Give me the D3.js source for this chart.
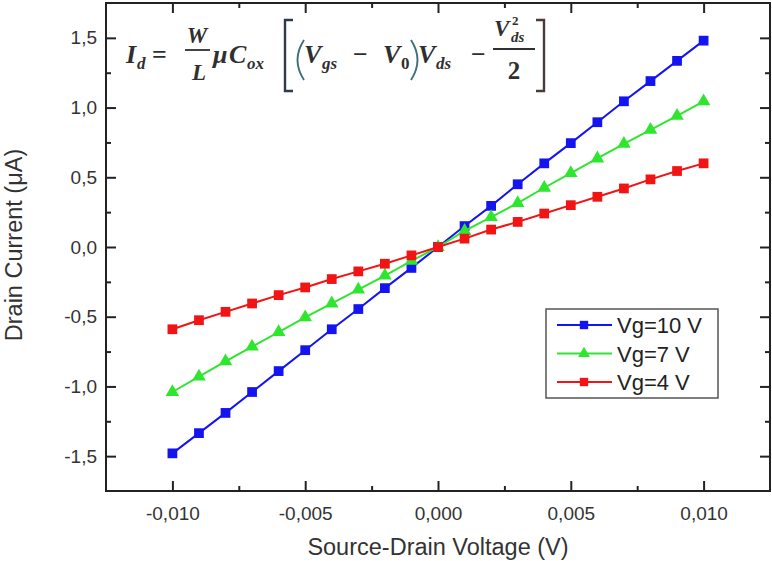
<!DOCTYPE html>
<html>
<head>
<meta charset="utf-8">
<script src="https://cdn.jsdelivr.net/npm/d3@7"></script>
<style>
  html, body { margin: 0; padding: 0; background: #fff; }
  svg { display: block; }
</style>
</head>
<body>
<svg id="chart" width="772" height="561"></svg>
<script>
// ---------- data ----------
const xValues = [-0.010, -0.009, -0.008, -0.007, -0.006, -0.005, -0.004, -0.003, -0.002, -0.001,
                 0.000, 0.001, 0.002, 0.003, 0.004, 0.005, 0.006, 0.007, 0.008, 0.009, 0.010];
const vg10 = [-1.48, -1.335, -1.19, -1.04, -0.89, -0.74, -0.59, -0.445, -0.295, -0.15,
              0.0, 0.15, 0.295, 0.45, 0.60, 0.745, 0.895, 1.045, 1.19, 1.335, 1.48];
const vg7  = [-1.04, -0.93, -0.82, -0.715, -0.61, -0.505, -0.405, -0.305, -0.205, -0.10,
              0.0, 0.115, 0.215, 0.315, 0.425, 0.53, 0.635, 0.74, 0.84, 0.94, 1.045];
const vg4  = [-0.59, -0.525, -0.465, -0.405, -0.345, -0.29, -0.23, -0.175, -0.12, -0.06,
              0.0, 0.06, 0.125, 0.18, 0.24, 0.30, 0.36, 0.42, 0.485, 0.545, 0.60];
const seriesNames = ["Vg=10 V", "Vg=7 V", "Vg=4 V"];
const xMajorTicks = [-0.010, -0.005, 0.000, 0.005, 0.010];
const xMinorTicks = [-0.0075, -0.0025, 0.0025, 0.0075];
const yMajorTicks = [-1.5, -1.0, -0.5, 0.0, 0.5, 1.0, 1.5];
const yMinorTicks = [-1.25, -0.75, -0.25, 0.25, 0.75, 1.25];
const xTitle = "Source-Drain Voltage (V)";
const yTitle = "Drain Current (μA)";

// ---------- layout ----------
const svg = d3.select("#chart");
const L = 106, R = 770, T = 3, B = 491;
const x = d3.scaleLinear().domain([-0.0125, 0.0125]).range([L, R]);
const y = d3.scaleLinear().domain([-1.75, 1.75]).range([B, T]);

const axisColor = "#222";
const labelFont = "'Liberation Sans', Arial, sans-serif";

const fmtX = v => d3.format(".3f")(v).replace("−", "-").replace(".", ",");
const fmtY = v => d3.format(".1f")(v).replace("−", "-").replace(".", ",");

function styleAxis(g) {
  g.select(".domain").remove();
  g.selectAll(".tick line").attr("stroke", axisColor).attr("stroke-width", 2);
  g.selectAll(".tick text")
    .attr("fill", "#333")
    .style("font-family", labelFont)
    .style("font-size", "19px");
}

// bottom
svg.append("g").attr("transform", `translate(0,${B})`)
  .call(d3.axisBottom(x).tickValues(xMajorTicks).tickSize(-10).tickSizeOuter(0).tickPadding(16).tickFormat(fmtX))
  .call(styleAxis);
svg.append("g").attr("transform", `translate(0,${B})`)
  .call(d3.axisBottom(x).tickValues(xMinorTicks).tickSize(-5).tickSizeOuter(0).tickFormat(""))
  .call(styleAxis);
// top
svg.append("g").attr("transform", `translate(0,${T})`)
  .call(d3.axisTop(x).tickValues(xMajorTicks).tickSize(-10).tickSizeOuter(0).tickFormat(""))
  .call(styleAxis);
svg.append("g").attr("transform", `translate(0,${T})`)
  .call(d3.axisTop(x).tickValues(xMinorTicks).tickSize(-5).tickSizeOuter(0).tickFormat(""))
  .call(styleAxis);
// left
svg.append("g").attr("transform", `translate(${L},0)`)
  .call(d3.axisLeft(y).tickValues(yMajorTicks).tickSize(-10).tickSizeOuter(0).tickPadding(9).tickFormat(fmtY))
  .call(styleAxis);
svg.append("g").attr("transform", `translate(${L},0)`)
  .call(d3.axisLeft(y).tickValues(yMinorTicks).tickSize(-5).tickSizeOuter(0).tickFormat(""))
  .call(styleAxis);
// right
svg.append("g").attr("transform", `translate(${R},0)`)
  .call(d3.axisRight(y).tickValues(yMajorTicks).tickSize(-10).tickSizeOuter(0).tickFormat(""))
  .call(styleAxis);
svg.append("g").attr("transform", `translate(${R},0)`)
  .call(d3.axisRight(y).tickValues(yMinorTicks).tickSize(-5).tickSizeOuter(0).tickFormat(""))
  .call(styleAxis);

// frame
svg.append("rect")
  .attr("x", L).attr("y", T).attr("width", R - L).attr("height", B - T)
  .attr("fill", "none").attr("stroke", axisColor).attr("stroke-width", 2);

// axis titles
svg.append("text")
  .attr("x", (x(-0.0125) + x(0.0125)) / 2).attr("y", 555)
  .attr("text-anchor", "middle")
  .style("font-family", labelFont).style("font-size", "23.5px").attr("fill", "#333")
  .text(xTitle);
svg.append("text")
  .attr("transform", `translate(22,${(y(-1.75) + y(1.75)) / 2 - 2}) rotate(-90)`)
  .attr("text-anchor", "middle")
  .style("font-family", labelFont).style("font-size", "23.5px").attr("fill", "#333")
  .text(yTitle);

// ---------- series ----------
const series = [
  { name: seriesNames[0], values: vg10, color: "#1414f0", marker: "square" },
  { name: seriesNames[1], values: vg7,  color: "#2ee62e", marker: "triangle" },
  { name: seriesNames[2], values: vg4,  color: "#f01414", marker: "square" }
];
const line = d3.line().x(d => x(d[0])).y(d => y(d[1]));
const sym = {
  square: d3.symbol().type(d3.symbolSquare).size(95),
  triangle: d3.symbol().type(d3.symbolTriangle).size(80)
};

series.forEach(s => {
  const pts = xValues.map((xv, i) => [xv, s.values[i]]);
  const g = svg.append("g");
  g.append("path").datum(pts).attr("d", line)
    .attr("fill", "none").attr("stroke", s.color).attr("stroke-width", 2);
  g.selectAll("path.m").data(pts).join("path").attr("class", "m")
    .attr("transform", d => `translate(${x(d[0])},${y(d[1])})`)
    .attr("d", sym[s.marker]())
    .attr("fill", s.color);
});

// ---------- legend ----------
const lg = svg.append("g");
lg.append("rect").attr("x", 546).attr("y", 309).attr("width", 172).attr("height", 89)
  .attr("fill", "#fff").attr("stroke", "#555").attr("stroke-width", 1.5);
series.forEach((s, i) => {
  const cy = 325 + i * 28.5;
  lg.append("line").attr("x1", 557).attr("x2", 612).attr("y1", cy).attr("y2", cy)
    .attr("stroke", s.color).attr("stroke-width", 2);
  lg.append("path").attr("transform", `translate(584,${cy})`)
    .attr("d", d3.symbol().type(s.marker === "square" ? d3.symbolSquare : d3.symbolTriangle).size(s.marker === "square" ? 70 : 60)())
    .attr("fill", s.color);
  lg.append("text").attr("x", 617).attr("y", cy + 8)
    .style("font-family", labelFont).style("font-size", "22px").attr("fill", "#222")
    .text(s.name);
});

// ---------- formula annotation ----------
const ink = "#2f2f2f";
const fg = svg.append("g").attr("fill", ink);
const serif = "'Liberation Serif', 'Times New Roman', serif";
function ft(xp, yp, str, size, italic = true, anchor = "start") {
  fg.append("text").attr("x", xp).attr("y", yp).attr("text-anchor", anchor)
    .style("font-family", serif).style("font-size", size + "px")
    .style("font-weight", "bold").style("font-style", italic ? "italic" : "normal")
    .text(str);
}
function fline(x1, x2, yy) {
  fg.append("line").attr("x1", x1).attr("x2", x2).attr("y1", yy).attr("y2", yy)
    .attr("stroke", ink).attr("stroke-width", 1.8);
}
ft(126, 63, "I", 26);
ft(137, 69, "d", 17);
ft(152, 63, "=", 26, false);
ft(197, 43, "W", 23, true, "middle");
fline(185, 210, 50);
ft(199, 80, "L", 23, true, "middle");
ft(213, 63, "μ", 26);
ft(229, 63, "C", 26);
ft(247, 69, "ox", 17);
// bracket [
fg.append("path").attr("d", "M293,20 L285,20 L285,91 L293,91")
  .attr("fill", "none").attr("stroke", "#2f3a4a").attr("stroke-width", 2.4);
// (
fg.append("path").attr("d", "M304,40 Q291,60 304,80")
  .attr("fill", "none").attr("stroke", "#3f6f78").attr("stroke-width", 1.9);
ft(304, 63, "V", 26);
ft(322, 69, "gs", 17);
ft(353, 63, "\u2212", 26, false);
ft(383, 63, "V", 26);
ft(401, 69, "0", 17, false);
// )
fg.append("path").attr("d", "M411,40 Q424,60 411,80")
  .attr("fill", "none").attr("stroke", "#3f6f78").attr("stroke-width", 1.9);
ft(418, 63, "V", 26);
ft(436, 69, "ds", 17);
ft(471, 63, "\u2212", 26, false);
ft(494, 36, "V", 23);
ft(512, 25, "2", 13, false);
ft(511, 42, "ds", 15);
fline(493, 535, 49);
ft(514, 79, "2", 25, false, "middle");
// bracket ]
fg.append("path").attr("d", "M536,20 L544,20 L544,91 L536,91")
  .attr("fill", "none").attr("stroke", "#4a3a3a").attr("stroke-width", 2.4);
</script>
</body>
</html>
